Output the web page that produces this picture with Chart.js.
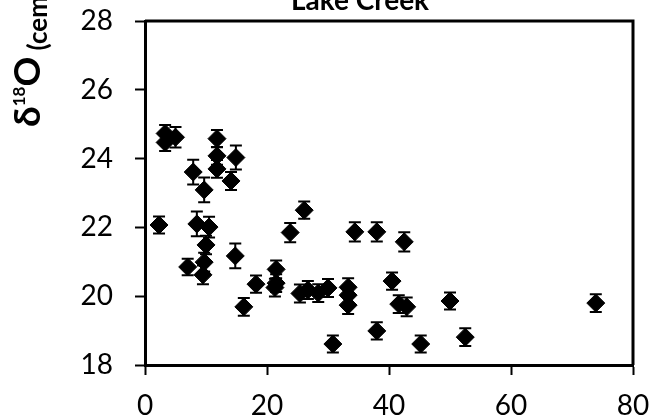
<!DOCTYPE html>
<html>
<head>
<meta charset="utf-8">
<script src="https://cdn.jsdelivr.net/npm/chart.js@4.4.1/dist/chart.umd.min.js"></script>
<style>
  html, body { margin: 0; padding: 0; background: #fff; }
  #wrap { width: 653px; height: 419px; position: relative; }
</style>
</head>
<body>
<div id="wrap"><canvas id="lakeCreek"></canvas></div>
<script>
// sample position along the section
const xValues = [2.3, 3.3, 3.3, 5.0, 7.0, 7.9, 8.5, 9.5, 9.7, 9.7, 10.0, 10.5, 11.8, 11.8, 11.8,
  14.1, 14.9, 14.8, 16.2, 18.2, 21.5, 21.5, 21.3, 23.8, 26.1, 25.4, 26.7, 28.4, 30.0, 30.8,
  33.3, 33.3, 33.3, 34.4, 38.0, 38.0, 40.5, 41.6, 42.9, 42.5, 45.2, 50.0, 52.5, 73.9];
// d18O of cement
const d18O = [22.07, 24.73, 24.47, 24.62, 20.85, 23.61, 22.10, 20.62, 20.99, 23.09, 21.49, 22.01, 24.58, 24.08, 23.70,
  23.35, 24.03, 21.17, 19.69, 20.35, 20.78, 20.38, 20.25, 21.85, 22.50, 20.08, 20.18, 20.09, 20.24, 18.61,
  20.26, 20.03, 19.74, 21.87, 21.87, 18.99, 20.44, 19.77, 19.69, 21.58, 18.61, 19.86, 18.81, 19.80];
// +/- error on each value
const errors = [0.25, 0.25, 0.25, 0.30, 0.24, 0.36, 0.36, 0.27, 0.27, 0.36, 0.27, 0.30, 0.25, 0.26, 0.26,
  0.26, 0.35, 0.36, 0.26, 0.25, 0.26, 0.26, 0.26, 0.28, 0.25, 0.26, 0.26, 0.26, 0.26, 0.25,
  0.26, 0.26, 0.26, 0.28, 0.28, 0.25, 0.25, 0.26, 0.27, 0.28, 0.25, 0.25, 0.26, 0.26];

const xTicks = [0, 20, 40, 60, 80];
const yTicks = [18, 20, 22, 24, 26, 28];
const chartTitle = 'Lake Creek';

const FONT = 'Lato, "Open Sans", sans-serif';

// vertical error bars with caps, drawn under the markers
const errorBars = {
  id: 'errorBars',
  beforeDatasetsDraw(chart) {
    const ctx = chart.ctx;
    const xs = chart.scales.x, ys = chart.scales.y;
    ctx.save();
    ctx.strokeStyle = '#000';
    ctx.lineWidth = 2;
    d18O.forEach((v, i) => {
      const px = xs.getPixelForValue(xValues[i]);
      const top = ys.getPixelForValue(v + errors[i]);
      const bot = ys.getPixelForValue(v - errors[i]);
      ctx.beginPath();
      ctx.moveTo(px, top); ctx.lineTo(px, bot);
      ctx.moveTo(px - 6, top); ctx.lineTo(px + 6, top);
      ctx.moveTo(px - 6, bot); ctx.lineTo(px + 6, bot);
      ctx.stroke();
    });
    ctx.restore();
  }
};

// box around plot, title and the rotated y label
const decorations = {
  id: 'decorations',
  afterDraw(chart) {
    const ctx = chart.ctx;
    const a = chart.chartArea;
    ctx.save();
    ctx.strokeStyle = '#000';
    ctx.lineWidth = 3;
    ctx.beginPath();
    ctx.moveTo(a.left, a.top);
    ctx.lineTo(a.right, a.top);
    ctx.lineTo(a.right, a.bottom);
    ctx.stroke();

    ctx.fillStyle = '#000';
    ctx.textAlign = 'center';
    ctx.textBaseline = 'alphabetic';
    ctx.font = 'bold 28px ' + FONT;
    ctx.fillText(chartTitle, 360, 10);

    // δ18O (cement), written bottom to top
    ctx.translate(40, 127);
    ctx.rotate(-Math.PI / 2);
    ctx.textAlign = 'left';
    let pos = 0;
    const parts = [
      { t: 'δ', f: 'bold 37px ', dy: 0 },
      { t: '18', f: 'bold 17px ', dy: -15 },
      { t: 'O', f: 'bold 37px ', dy: 0 },
      { t: ' (cement)', f: 'bold 26px ', dy: 7 }
    ];
    parts.forEach(p => {
      ctx.font = p.f + FONT;
      ctx.fillText(p.t, pos, p.dy);
      pos += ctx.measureText(p.t).width;
    });
    ctx.restore();
  }
};

// labels may overhang the plot edges; the layout padding alone sets the plot box
function noLabelPadding(s) {
  s.paddingTop = 0;
  s.paddingBottom = 0;
  s.paddingLeft = 0;
  s.paddingRight = 0;
}

let ctx = document.getElementById('lakeCreek');
let chart = new Chart(ctx, {
  type: 'scatter',
  data: {
    datasets: [{
      data: xValues.map((x, i) => ({ x: x, y: d18O[i] })),
      pointStyle: 'rectRot',
      pointRadius: 9,
      pointBackgroundColor: '#000',
      pointBorderColor: '#000',
      pointBorderWidth: 1
    }]
  },
  options: {
    responsive: true,
    maintainAspectRatio: false,
    animation: false,
    layout: { padding: { left: 0, top: 21, right: 20, bottom: 0 } },
    plugins: {
      legend: { display: false },
      tooltip: { enabled: false }
    },
    scales: {
      x: {
        type: 'linear',
        min: 0,
        max: 80,
        afterBuildTicks: s => { s.ticks = xTicks.map(v => ({ value: v })); },
        afterFit: s => { s.height = 54; noLabelPadding(s); },
        border: { display: true, color: '#000', width: 3 },
        grid: { drawOnChartArea: false, drawTicks: true, tickLength: 10, tickColor: '#000', tickWidth: 2 },
        ticks: { color: '#000', padding: 14, font: { family: FONT, size: 28 } }
      },
      y: {
        type: 'linear',
        min: 18,
        max: 28,
        afterBuildTicks: s => { s.ticks = yTicks.map(v => ({ value: v })); },
        afterFit: s => { s.width = 145; noLabelPadding(s); },
        border: { display: true, color: '#000', width: 3 },
        grid: { drawOnChartArea: false, drawTicks: true, tickLength: 10, tickColor: '#000', tickWidth: 2 },
        ticks: { color: '#000', padding: 22, font: { family: FONT, size: 28 } }
      }
    }
  },
  plugins: [errorBars, decorations]
});
</script>
</body>
</html>
